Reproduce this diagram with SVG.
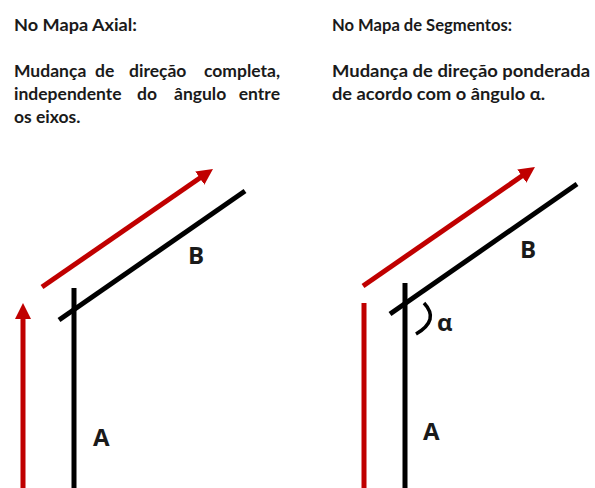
<svg xmlns="http://www.w3.org/2000/svg" width="595" height="488" viewBox="0 0 595 488">
<defs>
<style>
.t{font-family:Lato,"Liberation Sans",sans-serif;font-weight:bold;font-size:17.5px;fill:#1a1a1a}
.lbl{font-family:"Open Sans","Liberation Sans",sans-serif;font-weight:bold;font-size:24px;fill:#1a1a1a}
.k{stroke:#000;stroke-width:5;fill:none}
.r{stroke:#c00000;stroke-width:5;fill:none}
</style>
<marker id="ah" markerUnits="userSpaceOnUse" markerWidth="17" markerHeight="17" refX="4" refY="8" orient="auto" viewBox="0 0 17 16">
<path d="M0,0 L16,8 L0,16 z" fill="#c00000"/>
</marker>
</defs>
<rect width="595" height="488" fill="#fff"/>
<g id="text-left">
<text class="t" x="14" y="31" textLength="123" lengthAdjust="spacingAndGlyphs">No Mapa Axial:</text>
<text class="t" y="77"><tspan x="14">Mudança</tspan><tspan x="95">de</tspan><tspan x="129">direção</tspan><tspan x="280" text-anchor="end">completa,</tspan></text>
<text class="t" y="100"><tspan x="14">independente</tspan><tspan x="137">do</tspan><tspan x="174">ângulo</tspan><tspan x="280" text-anchor="end">entre</tspan></text>
<text class="t" x="14" y="123">os eixos.</text>
</g>
<g id="text-right">
<text class="t" x="332" y="31" textLength="180" lengthAdjust="spacingAndGlyphs">No Mapa de Segmentos:</text>
<text class="t" x="332" y="77" textLength="258" lengthAdjust="spacingAndGlyphs">Mudança de direção ponderada</text>
<text class="t" x="332" y="100" textLength="213" lengthAdjust="spacingAndGlyphs">de acordo com o ângulo α.</text>
</g>
<g id="node-A-left">
<line class="k" x1="74" y1="288" x2="74" y2="488"/>
<text class="lbl" x="93" y="446">A</text>
</g>
<g id="node-B-left">
<line class="k" x1="59" y1="320" x2="245" y2="191"/>
<text class="lbl" x="188" y="264">B</text>
</g>
<g id="node-A-right">
<line class="k" x1="405" y1="283" x2="405" y2="488"/>
<text class="lbl" x="423" y="440">A</text>
</g>
<g id="node-B-right">
<line class="k" x1="390" y1="314" x2="577" y2="184"/>
<text class="lbl" x="520" y="258">B</text>
</g>
<g id="angle">
<path d="M424,303 Q440,320 416,334" stroke="#000" stroke-width="3.5" fill="none"/>
<text class="lbl" x="437" y="331" font-size="26">α</text>
</g>
<g id="connectors">
<line class="r" x1="23" y1="488" x2="23" y2="315" marker-end="url(#ah)"/>
<line class="r" x1="42" y1="287" x2="203.1" y2="175.8" marker-end="url(#ah)"/>
<line class="r" x1="364" y1="303" x2="364" y2="488"/>
<line class="r" x1="363" y1="286" x2="525.1" y2="173.8" marker-end="url(#ah)"/>
</g>
</svg>
